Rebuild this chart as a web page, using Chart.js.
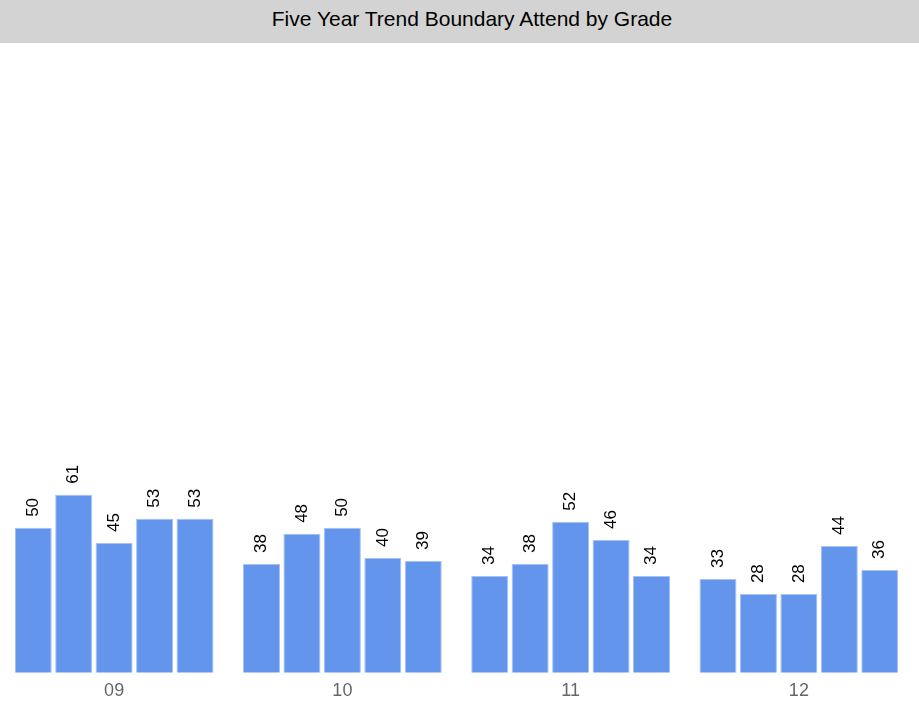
<!DOCTYPE html>
<html>
<head>
<meta charset="utf-8">
<script src="https://cdn.jsdelivr.net/npm/chart.js@4.4.1/dist/chart.umd.min.js"></script>
<style>
  html, body { margin: 0; padding: 0; background: #fff; }
  #title {
    width: 919px; height: 43px; line-height: 38px;
    background: #d3d3d3; color: #000;
    font-family: "Liberation Sans", Arial, sans-serif; font-size: 21px;
    text-align: center; box-sizing: border-box; padding-left: 25px;
  }
  #wrap { width: 919px; height: 667px; position: relative; }
</style>
</head>
<body>
<div id="title">Five Year Trend Boundary Attend by Grade</div>
<div id="wrap"><canvas id="chart"></canvas></div>
<script>
const grades = ['09', '10', '11', '12'];
const yearNames = ['Year 1', 'Year 2', 'Year 3', 'Year 4', 'Year 5'];
const year1 = [50, 38, 34, 33];
const year2 = [61, 48, 38, 28];
const year3 = [45, 50, 52, 28];
const year4 = [53, 40, 46, 44];
const year5 = [53, 39, 34, 36];

const barColor = '#6495ED';

// draws the value above each bar, turned 90 degrees
const valueLabels = {
  id: 'valueLabels',
  afterDatasetsDraw(chart) {
    const ctx = chart.ctx;
    ctx.save();
    ctx.font = '17px "Liberation Sans", Arial, sans-serif';
    ctx.fillStyle = '#000';
    ctx.textAlign = 'left';
    ctx.textBaseline = 'middle';
    chart.data.datasets.forEach((ds, i) => {
      chart.getDatasetMeta(i).data.forEach((bar, j) => {
        ctx.save();
        ctx.translate(bar.x, bar.y - 11);
        ctx.rotate(-Math.PI / 2);
        ctx.fillText(String(ds.data[j]), 0, 0);
        ctx.restore();
      });
    });
    ctx.restore();
  }
};

const series = [year1, year2, year3, year4, year5];

new Chart(document.getElementById('chart'), {
  type: 'bar',
  data: {
    labels: grades,
    datasets: series.map((vals, i) => ({
      label: yearNames[i],
      data: vals,
      backgroundColor: barColor,
      borderColor: '#a8c0f2',
      borderWidth: 1,
      categoryPercentage: 0.886,
      barPercentage: 0.915
    }))
  },
  options: {
    responsive: true,
    maintainAspectRatio: false,
    animation: false,
    layout: { padding: { left: 0, right: 6, top: 0, bottom: 0 } },
    plugins: {
      legend: { display: false },
      title: { display: false },
      tooltip: { enabled: false }
    },
    scales: {
      x: {
        grid: { display: false, drawTicks: false },
        border: { display: false },
        ticks: {
          color: '#666',
          padding: 8,
          font: { family: '"Liberation Sans", Arial, sans-serif', size: 18 }
        }
      },
      y: {
        display: false,
        min: 2,
        max: 211
      }
    }
  },
  plugins: [valueLabels]
});
</script>
</body>
</html>
